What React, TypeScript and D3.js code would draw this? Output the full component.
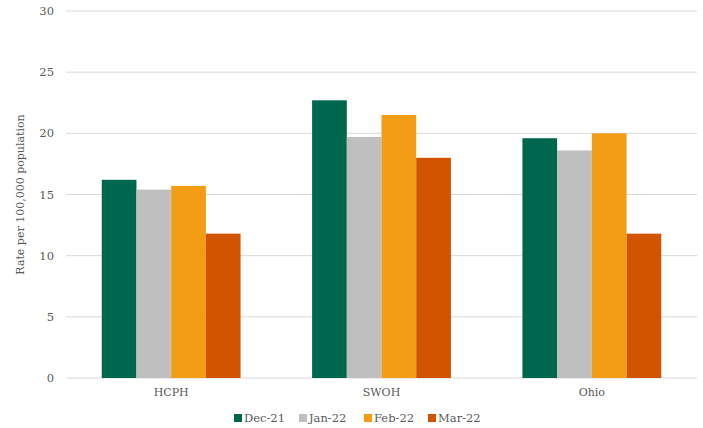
import React from "react";
import * as d3 from "d3";

const categories = ["HCPH", "SWOH", "Ohio"];
const seriesNames = ["Dec-21", "Jan-22", "Feb-22", "Mar-22"];
const dec21 = [16.2, 22.7, 19.6];
const jan22 = [15.4, 19.7, 18.6];
const feb22 = [15.7, 21.5, 20.0];
const mar22 = [11.8, 18.0, 11.8];
const yTicks = [0, 5, 10, 15, 20, 25, 30];
const colors = ["#00674F", "#BFBFBF", "#F29D13", "#D35400"];

const W = 703;
const H = 428;
const FONT = "'DejaVu Serif', serif";

export default function App() {
  const series = [dec21, jan22, feb22, mar22];
  const left = 66, right = 697, top = 11, bottom = 378;
  const x0 = d3.scaleBand<string>().domain(categories).range([left, right]).paddingInner(0.34).paddingOuter(0.17);
  const x1 = d3.scaleBand<string>().domain(seriesNames).range([0, x0.bandwidth()]);
  const y = d3.scaleLinear().domain([0, 30]).range([bottom, top]);

  const legendX = [234, 299, 364, 428];

  return (
    <div style={{ position: "absolute", left: 0, top: 0 }}>
      <svg width={W} height={H} style={{ display: "block", background: "#fff" }}>
        {yTicks.map((t) => (
          <g key={t}>
            <line x1={left} x2={right} y1={y(t)} y2={y(t)} stroke="#D9D9D9" strokeWidth={1} />
            <text x={54} y={y(t)} dy="0.35em" textAnchor="end" fontSize={11.5} fill="#595959" fontFamily={FONT}>
              {t}
            </text>
          </g>
        ))}
        {categories.map((c, ci) => (
          <g key={c}>
            {series.map((s, si) => (
              <rect
                key={si}
                x={(x0(c) as number) + (x1(seriesNames[si]) as number)}
                y={y(s[ci])}
                width={x1.bandwidth()}
                height={bottom - y(s[ci])}
                fill={colors[si]}
              />
            ))}
            <text x={(x0(c) as number) + x0.bandwidth() / 2} y={396} textAnchor="middle" fontSize={11} fill="#595959" fontFamily={FONT}>
              {c}
            </text>
          </g>
        ))}
        <text
          transform={`translate(24, ${(top + bottom) / 2}) rotate(-90)`}
          textAnchor="middle"
          fontSize={11}
          fill="#595959"
          fontFamily={FONT}
        >
          Rate per 100,000 population
        </text>
        {seriesNames.map((n, i) => (
          <g key={n}>
            <rect x={legendX[i]} y={414} width={8} height={8} fill={colors[i]} />
            <text x={legendX[i] + 10} y={418} dy="0.35em" fontSize={11.5} fill="#595959" fontFamily={FONT}>
              {n}
            </text>
          </g>
        ))}
      </svg>
    </div>
  );
}
